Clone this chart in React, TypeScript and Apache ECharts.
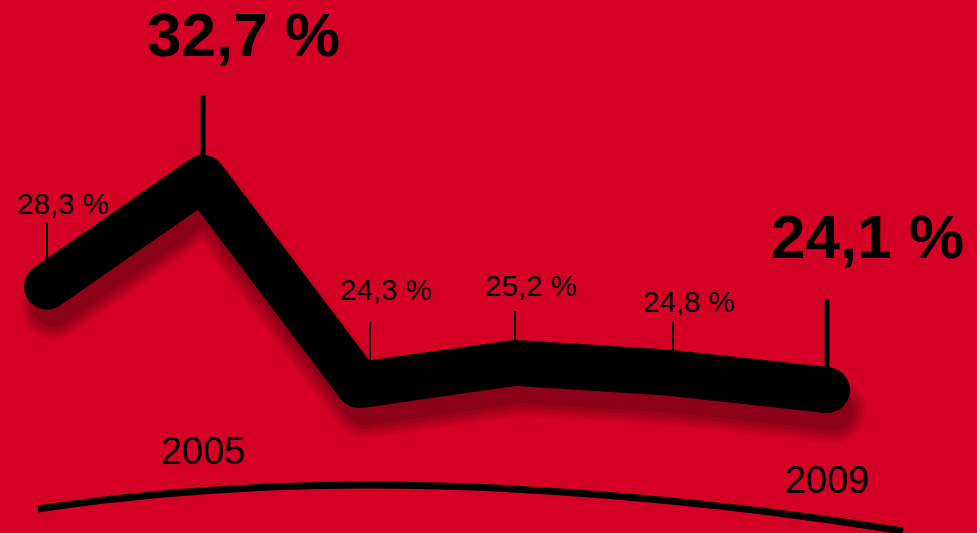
import React, { useEffect, useRef } from "react";
import * as echarts from "echarts";

const years = ["2004", "2005", "2006", "2007", "2008", "2009"];
const values = [28.3, 32.7, 24.3, 25.2, 24.8, 24.1];
const labels = ["28,3 %", "32,7 %", "24,3 %", "25,2 %", "24,8 %", "24,1 %"];
const highlighted = [false, true, false, false, false, true];
const shownYears = ["2005", "2009"];

// layout of the callouts (pixels, relative to each point)
const tickTopDy = [-64, -83, -63, -52, -51, -91];
const labelDy = [-83, -144, -96, -77, -71, -154];
const tickDx = [0, 0, 11, 0, 2, 0];

const BG = "#d40026";
const FONT = '"Liberation Sans", Arial, sans-serif';

// soft shadow layers (width, opacity)
const shadowLayers = [
  [66, 0.08],
  [60, 0.1],
  [54, 0.12],
  [48, 0.15],
  [40, 0.18],
];

// decorative arc (quadratic bezier) under the chart
const ARC = { x1: 38, y1: 509, cx: 405, cy: 452, x2: 903, y2: 531 };
function arcY(x: number): number {
  let lo = 0, hi = 1;
  for (let k = 0; k < 40; k++) {
    const t = (lo + hi) / 2;
    const xt = (1 - t) * (1 - t) * ARC.x1 + 2 * t * (1 - t) * ARC.cx + t * t * ARC.x2;
    if (xt < x) lo = t; else hi = t;
  }
  const t = (lo + hi) / 2;
  return (1 - t) * (1 - t) * ARC.y1 + 2 * t * (1 - t) * ARC.cy + t * t * ARC.y2;
}

export default function App() {
  const ref = useRef<HTMLDivElement>(null);
  useEffect(() => {
    document.body.style.margin = "0";
    const chart = echarts.init(ref.current!, null, { renderer: "svg" });
    const option: any = {
      animation: false,
      backgroundColor: BG,
      grid: { left: 47, right: 150, top: 47.4, bottom: 91.2 },
      xAxis: {
        type: "category",
        data: years,
        boundaryGap: false,
        show: false,
      },
      yAxis: { type: "value", min: 22, max: 38, show: false },
      graphic: [
        {
          type: "bezierCurve",
          shape: { x1: ARC.x1, y1: ARC.y1, cpx1: ARC.cx, cpy1: ARC.cy, x2: ARC.x2, y2: ARC.y2 },
          style: { stroke: "#000", lineWidth: 7, fill: "none" },
          z: 1,
        },
      ],
      series: [
        {
          // soft shadow under the line
          type: "custom",
          coordinateSystem: "cartesian2d",
          clip: false,
          silent: true,
          z: 1,
          data: [[0, values[0]]],
          encode: { x: 0, y: 1 },
          renderItem: (params: any, api: any) => {
            const pts = values.map((v, i) => {
              const c = api.coord([i, v]);
              return [c[0] + 6, c[1] + 20];
            });
            return {
              type: "group",
              children: shadowLayers.map(([w, o]) => ({
                type: "polyline",
                shape: { points: pts },
                style: {
                  stroke: "rgb(70,0,12)",
                  opacity: o,
                  lineWidth: w,
                  fill: "none",
                  lineCap: "round",
                  lineJoin: "round",
                },
              })),
            };
          },
        },
        {
          type: "custom",
          coordinateSystem: "cartesian2d",
          clip: false,
          z: 2,
          data: values.map((v, i) => [i, v]),
          encode: { x: 0, y: 1 },
          renderItem: (params: any, api: any) => {
            const i = params.dataIndex;
            const p = api.coord([api.value(0), api.value(1)]);
            const big = highlighted[i];
            const tx = p[0] + tickDx[i];
            const children: any[] = [];
            children.push({
              type: "line",
              shape: { x1: tx, y1: p[1] + tickTopDy[i], x2: tx, y2: p[1] - 10 },
              style: { stroke: "#000", lineWidth: big ? 5 : 2 },
            });
            children.push({
              type: "text",
              style: {
                text: labels[i],
                x: tx - (big ? 56 : 30),
                y: p[1] + labelDy[i],
                fill: "#000",
                fontSize: big ? 62 : 29.5,
                fontWeight: big ? "bold" : "normal",
                fontFamily: FONT,
                align: "left",
                verticalAlign: "middle",
              },
            });
            if (shownYears.indexOf(years[i]) >= 0) {
              children.push({
                type: "text",
                style: {
                  text: years[i],
                  x: p[0],
                  y: arcY(p[0]) - 40,
                  fill: "#000",
                  fontSize: 38,
                  fontFamily: FONT,
                  align: "center",
                  verticalAlign: "middle",
                },
              });
            }
            return { type: "group", children };
          },
        },
        {
          type: "line",
          z: 3,
          clip: false,
          data: values,
          symbol: "none",
          lineStyle: {
            color: "#000",
            width: 46,
            cap: "round",
            join: "round",
          },
        },
      ],
    };
    chart.setOption(option);
    return () => chart.dispose();
  }, []);
  return <div ref={ref} style={{ width: 977, height: 533, background: BG }} />;
}
